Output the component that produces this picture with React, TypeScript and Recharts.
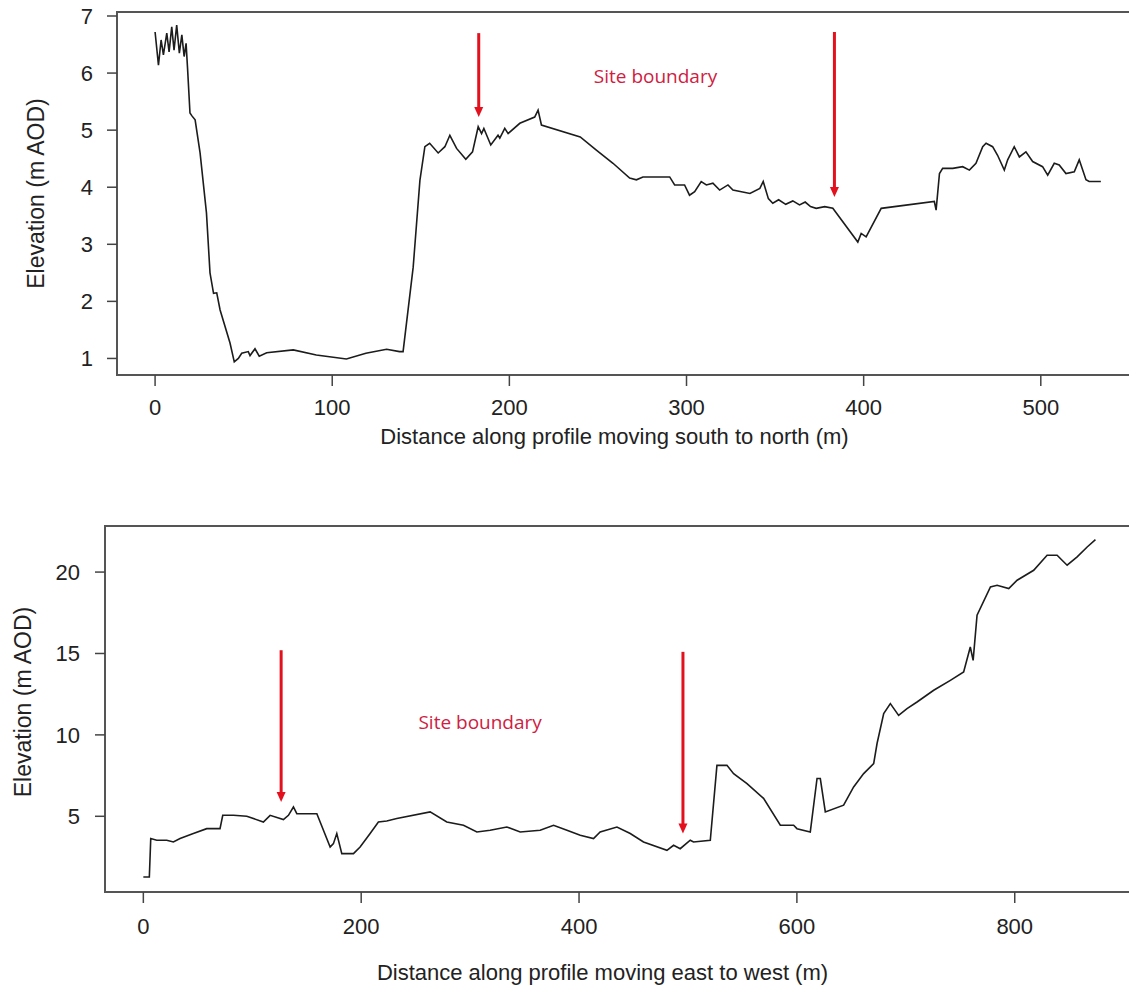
import React from "react";
import {
  LineChart,
  Line,
  XAxis,
  YAxis,
  ReferenceArea,
  ReferenceLine,
  ReferenceDot,
} from "recharts";

// profile 1: south -> north
const snDistance = [
  0, 1.9, 3.4, 4.7, 6.6, 7.9, 9.4, 10.7, 12.2, 13.7, 15.1, 16.4, 17.5, 18.3,
  19.7, 20.8, 22.6, 25.4, 29, 31, 33, 34.8, 36.7, 42.3, 44.7, 47, 48.9, 52.6,
  53.6, 56.4, 58.8, 63, 78, 91, 108, 119, 130.7, 138, 140, 145.7, 149.5, 152.3,
  155, 159.8, 163.6, 166.4, 170.2, 175.4, 179.2, 182.4, 184.3, 185.6, 189.5,
  193.6, 194.6, 197.4, 199.3, 205.9, 214.3, 216.2, 218.1, 240, 249.1, 258.5,
  267.9, 271.7, 275.4, 290.5, 293.3, 298.9, 301.7, 304.6, 308.3, 311.2, 314.9,
  318.7, 323.4, 326.2, 335.8, 341.4, 343.3, 346.2, 348.7, 352, 356, 360, 363.8,
  367, 370, 373.2, 378, 382.6, 396.7, 398.6, 401.4, 409.9, 439.9, 440.9, 442.8,
  444.6, 450.3, 455.9, 459.7, 463.4, 467.2, 469.1, 472.8, 475.6, 479.4, 481.3,
  485, 487.9, 491.6, 495.4, 501, 503.9, 507.6, 510.4, 514.2, 518.9, 521.7,
  525.5, 527.3, 533.9,
];
const snElevation = [
  6.72, 6.14, 6.58, 6.32, 6.7, 6.37, 6.81, 6.4, 6.84, 6.35, 6.67, 6.29, 6.52,
  6.1, 5.3, 5.25, 5.18, 4.6, 3.55, 2.5, 2.14, 2.15, 1.85, 1.27, 0.94, 1.0, 1.09,
  1.12, 1.05, 1.17, 1.04, 1.1, 1.15, 1.06, 0.99, 1.09, 1.16, 1.12, 1.12, 2.6,
  4.12, 4.71, 4.77, 4.6, 4.71, 4.91, 4.68, 4.49, 4.62, 5.06, 4.94, 5.03, 4.74,
  4.91, 4.86, 5.03, 4.94, 5.12, 5.23, 5.35, 5.09, 4.88, 4.65, 4.42, 4.16, 4.13,
  4.18, 4.18, 4.04, 4.04, 3.86, 3.92, 4.1, 4.04, 4.07, 3.95, 4.04, 3.95, 3.89,
  3.98, 4.1, 3.8, 3.72, 3.78, 3.7, 3.76, 3.69, 3.74, 3.66, 3.63, 3.66, 3.63,
  3.04, 3.19, 3.13, 3.63, 3.75, 3.6, 4.24, 4.33, 4.33, 4.36, 4.3, 4.42, 4.71,
  4.77, 4.71, 4.56, 4.3, 4.48, 4.71, 4.53, 4.62, 4.45, 4.36, 4.21, 4.42, 4.39,
  4.24, 4.27, 4.48, 4.13, 4.1, 4.1,
];

// profile 2: east -> west
const ewDistance = [
  0, 5.5, 6.8, 12.3, 21.5, 27.6, 33.7, 45.9, 58.2, 70.4, 72.9, 82.7, 95, 110.2,
  116.4, 128.6, 133.2, 137.8, 140.9, 159.3, 171.5, 174.5, 177.6, 182.2, 192.9,
  199, 208.2, 215.8, 223.5, 232.7, 263.3, 278.6, 293.9, 306.2, 318.4, 333.7,
  346, 364.3, 376.6, 388.9, 401.1, 413.3, 419.4, 434.8, 447, 459.2, 480.7,
  486.8, 492.9, 502.1, 505.1, 520.5, 526.6, 535.8, 541.9, 554.2, 569.4, 584.8,
  597, 600.1, 612.3, 618.5, 621.5, 626.1, 642.9, 652.1, 661.3, 670.5, 673.6,
  679.7, 685.8, 693.4, 701.1, 710.3, 725.6, 740.9, 753.1, 759.2, 761.8, 765.4,
  777.7, 783.8, 794.5, 802.2, 817.4, 829.7, 838.9, 848.1, 857.3, 866.5, 874.1,
];
const ewElevation = [
  1.27, 1.27, 3.63, 3.53, 3.53, 3.42, 3.63, 3.94, 4.24, 4.24, 5.06, 5.06, 5.0,
  4.65, 5.06, 4.8, 5.06, 5.57, 5.16, 5.16, 3.11, 3.32, 3.94, 2.71, 2.71, 3.11,
  3.94, 4.65, 4.71, 4.86, 5.27, 4.65, 4.45, 4.04, 4.14, 4.34, 4.04, 4.14, 4.45,
  4.14, 3.83, 3.63, 4.04, 4.34, 3.94, 3.42, 2.91, 3.22, 3.01, 3.53, 3.42, 3.53,
  8.13, 8.13, 7.62, 7.01, 6.1, 4.45, 4.45, 4.24, 4.04, 7.32, 7.32, 5.27, 5.68,
  6.8, 7.62, 8.24, 9.47, 11.31, 11.92, 11.2, 11.61, 12.02, 12.74, 13.35, 13.86,
  15.4, 14.58, 17.35, 19.09, 19.19, 18.99, 19.5, 20.11, 21.03, 21.03, 20.42,
  20.93, 21.54, 21.99,
];

const snTicksX = [0, 100, 200, 300, 400, 500];
const snTicksY = [1, 2, 3, 4, 5, 6, 7];
const ewTicksX = [0, 200, 400, 600, 800];
const ewTicksY = [5, 10, 15, 20];

const snArrows = [
  { at: 182.7, from: 6.7, to: 5.23 },
  { at: 383.5, from: 6.72, to: 3.83 },
];
const ewArrows = [
  { at: 126.5, from: 15.2, to: 5.88 },
  { at: 495.4, from: 15.1, to: 3.94 },
];

const snNote = { x: 282.5, y: 5.94 };
const ewNote = { x: 309.2, y: 10.79 };

const FONT = "'Liberation Sans', Arial, sans-serif";
const RED = "#e3101e";
const NOTE_RED = "#d0203f";

const Arrow = (props: any) => {
  const { x1, y1, x2, y2 } = props;
  const head = 10;
  return (
    <g>
      <line x1={x1} y1={y1} x2={x2} y2={y2 - head + 1} stroke={RED} strokeWidth={3} />
      <polygon
        points={`${x2 - 4.5},${y2 - head} ${x2 + 4.5},${y2 - head} ${x2},${y2}`}
        fill={RED}
      />
    </g>
  );
};

const Note = (props: any) => (
  <text
    x={props.cx}
    y={props.cy}
    textAnchor="middle"
    dominantBaseline="central"
    fill={NOTE_RED}
    fontFamily="'Open Sans', sans-serif"
    fontSize={19}
  >
    Site boundary
  </text>
);

type ProfileProps = {
  distance: number[];
  elevation: number[];
  xDomain: [number, number];
  yDomain: [number, number];
  xTicks: number[];
  yTicks: number[];
  arrows: { at: number; from: number; to: number }[];
  note: { x: number; y: number };
  xTitle: string;
  top: number;
  height: number;
  marginTop: number;
  yAxisWidth: number;
  xAxisHeight: number;
  yTickMargin: number;
  xTickMargin: number;
  xTitleDy: number;
  yTitleX: number;
  yTitleShift: number;
};

function Profile(p: ProfileProps) {
  const data = p.distance.map((d, i) => ({ d, e: p.elevation[i] }));
  const tick = { fontSize: 22, fill: "#222", fontFamily: FONT };
  return (
    <div style={{ position: "absolute", left: 0, top: p.top }}>
      <LineChart
        width={1160}
        height={p.height}
        data={data}
        margin={{ top: p.marginTop, right: 20, bottom: 0, left: 0 }}
      >
        <XAxis
          dataKey="d"
          type="number"
          domain={p.xDomain}
          allowDataOverflow
          ticks={p.xTicks}
          height={p.xAxisHeight}
          tickSize={11}
          tickMargin={p.xTickMargin}
          tick={tick}
          tickLine={{ stroke: "#444", strokeWidth: 1.5 }}
          axisLine={false}
          label={(lp: any) => {
            const vb = lp.viewBox;
            return (
              <text
                x={vb.x + 497.5}
                y={vb.y + p.xTitleDy}
                textAnchor="middle"
                fontSize={22}
                fill="#222"
                fontFamily={FONT}
              >
                {p.xTitle}
              </text>
            );
          }}
        />
        <YAxis
          type="number"
          domain={p.yDomain}
          allowDataOverflow
          ticks={p.yTicks}
          width={p.yAxisWidth}
          tickSize={10}
          tickMargin={p.yTickMargin}
          tick={tick}
          tickLine={{ stroke: "#444", strokeWidth: 1.5 }}
          axisLine={false}
          label={(lp: any) => {
            const vb = lp.viewBox;
            const cx = vb.x + p.yTitleX;
            const cy = vb.y + vb.height / 2 + p.yTitleShift;
            return (
              <text
                x={cx}
                y={cy}
                transform={`rotate(-90, ${cx}, ${cy})`}
                textAnchor="middle"
                fontSize={23}
                fill="#222"
                fontFamily={FONT}
              >
                Elevation (m AOD)
              </text>
            );
          }}
        />
        <ReferenceArea
          x1={p.xDomain[0]}
          x2={p.xDomain[1]}
          y1={p.yDomain[0]}
          y2={p.yDomain[1]}
          fill="none"
          stroke="#555"
          strokeWidth={2}
          ifOverflow="visible"
        />
        <Line
          type="linear"
          dataKey="e"
          stroke="#1c1c1c"
          strokeWidth={1.6}
          dot={false}
          isAnimationActive={false}
        />
        {p.arrows.map((a, i) => (
          <ReferenceLine
            key={i}
            segment={[
              { x: a.at, y: a.from },
              { x: a.at, y: a.to },
            ]}
            shape={Arrow}
          />
        ))}
        <ReferenceDot x={p.note.x} y={p.note.y} r={1} shape={Note} />
      </LineChart>
    </div>
  );
}

export default function App() {
  return (
    <div
      style={{
        position: "absolute",
        left: 0,
        top: 0,
        width: 1129,
        height: 992,
        overflow: "hidden",
        background: "#fff",
      }}
    >
      <Profile
        distance={snDistance}
        elevation={snElevation}
        xDomain={[-21.5, 556]}
        yDomain={[0.71, 7.07]}
        xTicks={snTicksX}
        yTicks={snTicksY}
        arrows={snArrows}
        note={snNote}
        xTitle="Distance along profile moving south to north (m)"
        top={0}
        height={460}
        marginTop={12}
        yAxisWidth={117}
        xAxisHeight={85}
        yTickMargin={14}
        xTickMargin={13}
        xTitleDy={69}
        yTitleX={44}
        yTitleShift={0}
      />
      <Profile
        distance={ewDistance}
        elevation={ewElevation}
        xDomain={[-35.2, 915]}
        yDomain={[0.35, 22.83]}
        xTicks={ewTicksX}
        yTicks={ewTicksY}
        arrows={ewArrows}
        note={ewNote}
        xTitle="Distance along profile moving east to west (m)"
        top={500}
        height={492}
        marginTop={26}
        yAxisWidth={105}
        xAxisHeight={100}
        yTickMargin={15}
        xTickMargin={15}
        xTitleDy={88}
        yTitleX={31}
        yTitleShift={-7}
      />
    </div>
  );
}
